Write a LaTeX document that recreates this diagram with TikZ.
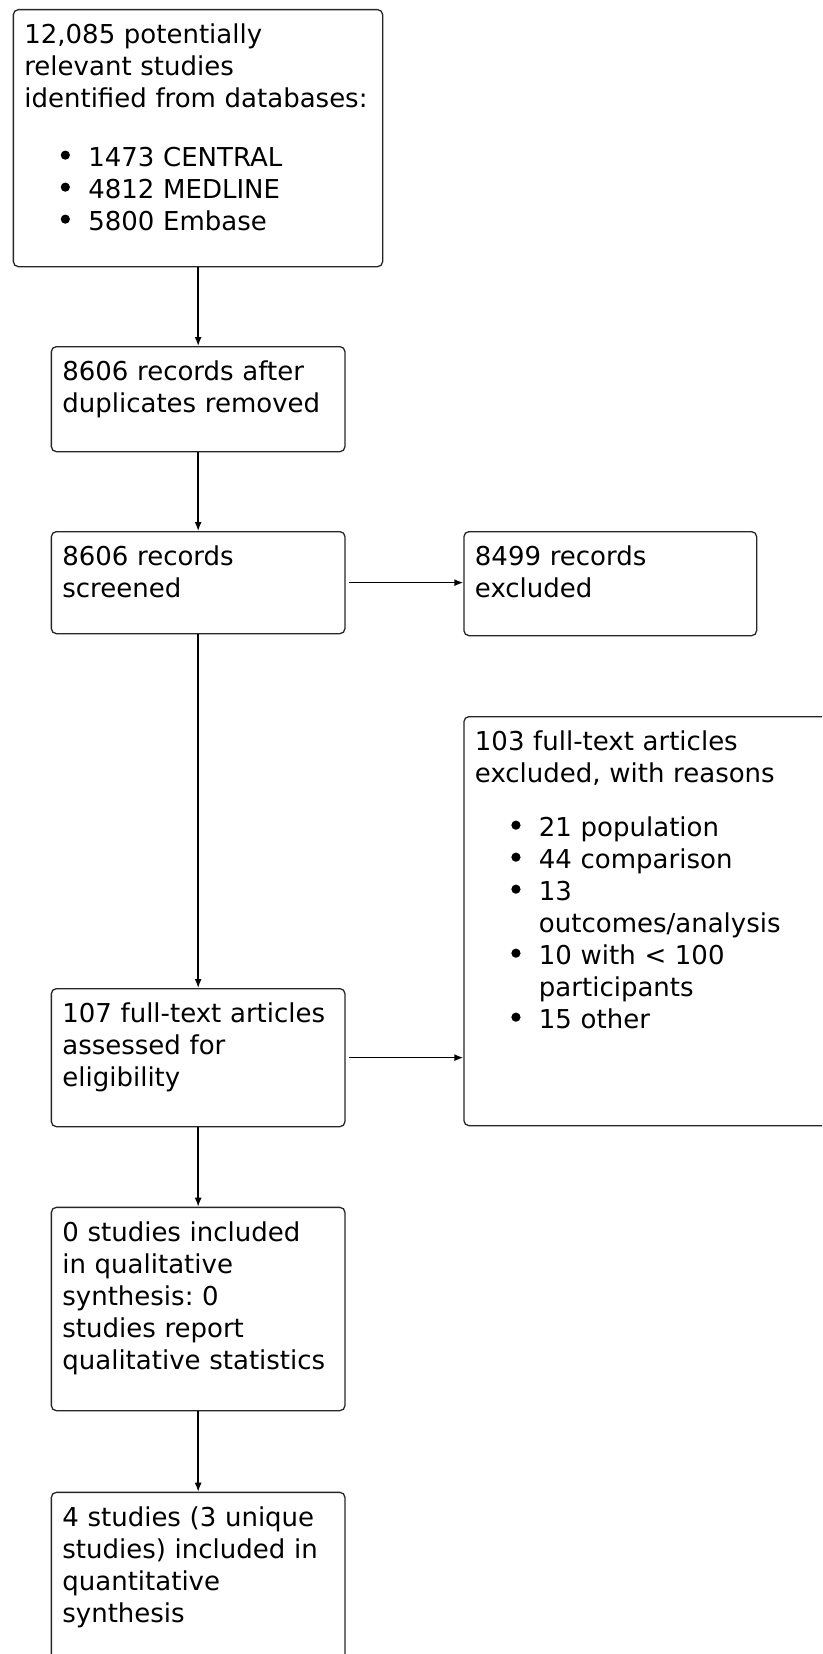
\documentclass[tikz,border=0pt]{standalone}
\usepackage{fontspec}
\setmainfont{DejaVu Sans}
\usetikzlibrary{arrows.meta}
\newcommand{\bul}{\hspace*{32pt}\makebox[18pt]{\tikz[baseline=0pt]\fill[black] (0pt,11.5pt) circle (4.6pt);}\hspace*{14pt}}
\newcommand{\cont}{\hspace*{64pt}}
\frenchspacing
\begin{document}
\begin{tikzpicture}[x=1pt,y=-1pt,
  box/.style={draw=black!85, line width=1.3pt, rounded corners=5pt, anchor=north west,
    inner xsep=11pt, inner ysep=0pt, align=left, text height=34pt,
    font=\fontsize{26}{32}\selectfont\frenchspacing},
  arr/.style={line width=1.4pt, -{Latex[length=9pt,width=7pt]}}]
\useasboundingbox (0,0) rectangle (822,1654);
\clip (0,0) rectangle (822,1654);
\node[box, text width=347.3pt, text depth=223pt] (b1) at (12.7,9)
  {12,085 potentially\\ relevant studies\\ identified from databases:\\[27pt]
   \bul 1473 CENTRAL\\ \bul 4812 MEDLINE\\ \bul 5800 Embase};
\node[box, text width=271.6pt, text depth=71pt] (b2) at (50.7,346)
  {8606 records after\\ duplicates removed};
\node[box, text width=271.6pt, text depth=68pt] (b3) at (50.7,531)
  {8606 records\\ screened};
\node[box, text width=270.7pt, text depth=70pt] (b4) at (463.3,531)
  {8499 records\\ excluded};
\node[box, text width=271.6pt, text depth=104pt] (b5) at (50.7,988)
  {107 full-text articles\\ assessed for\\ eligibility};
\node[box, text width=347pt, text depth=375pt] (b6) at (463.3,716)
  {103 full-text articles\\ excluded, with reasons\\[22pt]
   \bul 21 population\\ \bul 44 comparison\\ \bul 13\\ \cont outcomes/analysis\\
   \bul 10 with < 100\\ \cont participants\\ \bul 15 other};
\node[box, text width=271.6pt, text depth=169.3pt] (b7) at (50.7,1206.7)
  {0 studies included\\ in qualitative\\ synthesis: 0\\ studies report\\ qualitative statistics};
\node[box, text width=271.6pt, text depth=176pt] (b8) at (50.7,1491.7)
  {4 studies (3 unique\\ studies) included in\\ quantitative\\ synthesis};
\draw[arr] (b2.north |- b1.south) -- (b2.north);
\draw[arr] (b2.south) -- (b3.north);
\draw[arr] (b3.south) -- (b5.north);
\draw[arr] (b5.south) -- (b7.north);
\draw[arr] (b7.south) -- (b8.north);
\draw[arr, shorten <=3pt] (b3.east) -- (b4.west |- b3.east);
\draw[arr, shorten <=3pt] (b5.east) -- (b6.west |- b5.east);
\end{tikzpicture}
\end{document}
